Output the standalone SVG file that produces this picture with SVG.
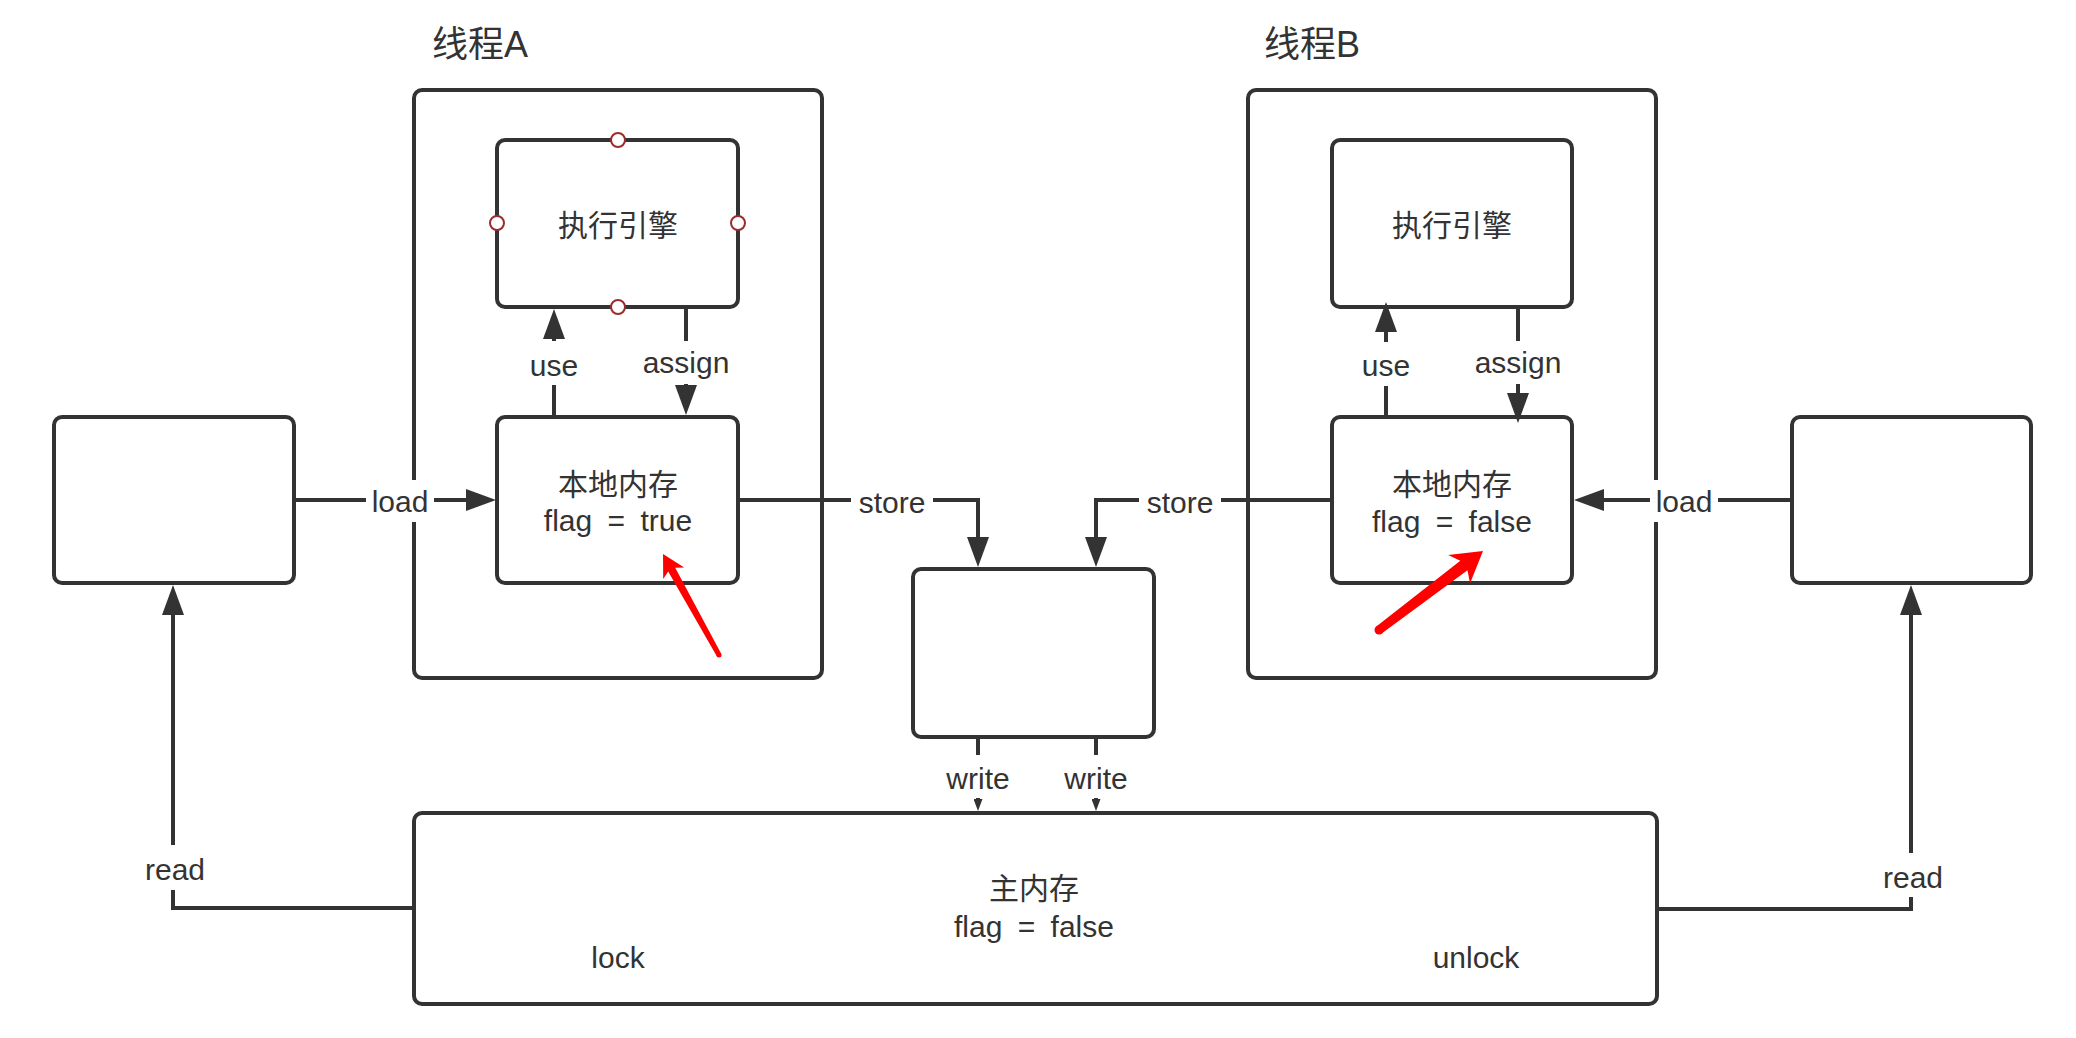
<svg xmlns="http://www.w3.org/2000/svg" width="2076" height="1038" viewBox="0 0 2076 1038">
<style>
.box{fill:#fff;stroke:#333;stroke-width:4}
.conn{fill:none;stroke:#333;stroke-width:4}
.t{font-family:"Liberation Sans","Noto Sans CJK SC",sans-serif;font-size:30px;fill:#333;text-anchor:middle}
.ws{word-spacing:7px}
.title{font-family:"Liberation Sans","Noto Sans CJK SC",sans-serif;font-size:36px;fill:#333}
.bg{fill:#fff}
.pt{fill:#fff;stroke:#9b2c2c;stroke-width:2}
.red{fill:#ff0000}
</style>
<defs>
<marker id="arr" viewBox="0 0 30 22" refX="10" refY="11" markerWidth="30" markerHeight="22" markerUnits="userSpaceOnUse" orient="auto"><path d="M0,0 L30,11 L0,22 z" fill="#333"/></marker>
<marker id="sarr" viewBox="0 0 12 9" refX="4" refY="4.5" markerWidth="12" markerHeight="9" markerUnits="userSpaceOnUse" orient="auto"><path d="M0,0 L12,4.5 L0,9 z" fill="#333"/></marker>
</defs>
<rect width="2076" height="1038" fill="#fff"/>

<g id="thread-a">
<rect class="box" x="414" y="90" width="408" height="588" rx="8"/>
<text class="title" x="432" y="57">线程A</text>
</g>
<g id="thread-b">
<rect class="box" x="1248" y="90" width="408" height="588" rx="8"/>
<text class="title" x="1264" y="57">线程B</text>
</g>

<g id="exec-a">
<rect class="box" x="497" y="140" width="241" height="167" rx="8"/>
<text class="t" x="618" y="236">执行引擎</text>
<circle class="pt" cx="618" cy="140" r="7"/>
<circle class="pt" cx="497" cy="223" r="7"/>
<circle class="pt" cx="738" cy="223" r="7"/>
<circle class="pt" cx="618" cy="307" r="7"/>
</g>
<g id="local-a">
<rect class="box" x="497" y="417" width="241" height="166" rx="8"/>
<text class="t" x="618" y="495">本地内存</text>
<text class="t ws" x="618" y="531">flag = true</text>
</g>
<g id="exec-b">
<rect class="box" x="1332" y="140" width="240" height="167" rx="8"/>
<text class="t" x="1452" y="236">执行引擎</text>
</g>
<g id="local-b">
<rect class="box" x="1332" y="417" width="240" height="166" rx="8"/>
<text class="t" x="1452" y="495">本地内存</text>
<text class="t ws" x="1452" y="532">flag = false</text>
</g>
<g id="left-box">
<rect class="box" x="54" y="417" width="240" height="166" rx="8"/>
</g>
<g id="right-box">
<rect class="box" x="1792" y="417" width="239" height="166" rx="8"/>
</g>
<g id="middle-box">
<rect class="box" x="913" y="569" width="241" height="168" rx="8"/>
</g>
<g id="main-memory">
<rect class="box" x="414" y="813" width="1243" height="191" rx="8"/>
<text class="t" x="1034" y="899">主内存</text>
<text class="t ws" x="1034" y="937">flag = false</text>
<text class="t" x="618" y="968">lock</text>
<text class="t" x="1476" y="968">unlock</text>
</g>

<g id="connectors">
<g id="load-a">
<path class="conn" d="M294,500 H476" marker-end="url(#arr)"/>
<rect class="bg" x="366" y="480" width="68" height="42"/>
<text class="t" x="400" y="512">load</text>
</g>
<g id="use-a">
<path class="conn" d="M554,417 V329" marker-end="url(#arr)"/>
<rect class="bg" x="528" y="341" width="52" height="44"/>
<text class="t" x="554" y="376">use</text>
</g>
<g id="assign-a">
<path class="conn" d="M686,307 V395" marker-end="url(#arr)"/>
<rect class="bg" x="640" y="341" width="92" height="43"/>
<text class="t" x="686" y="373">assign</text>
</g>
<g id="store-a">
<path class="conn" d="M738,500 H978 V547" marker-end="url(#arr)"/>
<rect class="bg" x="851" y="480" width="82" height="40"/>
<text class="t" x="892" y="513">store</text>
</g>
<g id="store-b">
<path class="conn" d="M1332,500 H1096 V547" marker-end="url(#arr)"/>
<rect class="bg" x="1139" y="480" width="82" height="40"/>
<text class="t" x="1180" y="513">store</text>
</g>
<g id="use-b">
<path class="conn" d="M1386,417 V322" marker-end="url(#arr)"/>
<rect class="bg" x="1360" y="342" width="52" height="44"/>
<text class="t" x="1386" y="376">use</text>
</g>
<g id="assign-b">
<path class="conn" d="M1518,307 V403" marker-end="url(#arr)"/>
<rect class="bg" x="1472" y="341" width="92" height="43"/>
<text class="t" x="1518" y="373">assign</text>
</g>
<g id="load-b">
<path class="conn" d="M1792,500 H1594" marker-end="url(#arr)"/>
<rect class="bg" x="1650" y="480" width="68" height="42"/>
<text class="t" x="1684" y="512">load</text>
</g>
<g id="write-1">
<path class="conn" d="M978,737 V803" marker-end="url(#sarr)"/>
<rect class="bg" x="940" y="755" width="76" height="43"/>
<text class="t" x="978" y="789">write</text>
</g>
<g id="write-2">
<path class="conn" d="M1096,737 V803" marker-end="url(#sarr)"/>
<rect class="bg" x="1058" y="755" width="76" height="43"/>
<text class="t" x="1096" y="789">write</text>
</g>
<g id="read-a">
<path class="conn" d="M414,908 H173 V605" marker-end="url(#arr)"/>
<rect class="bg" x="143" y="845" width="64" height="45"/>
<text class="t" x="175" y="880">read</text>
</g>
<g id="read-b">
<path class="conn" d="M1657,909 H1911 V605" marker-end="url(#arr)"/>
<rect class="bg" x="1880" y="853" width="64" height="44"/>
<text class="t" x="1913" y="888">read</text>
</g>
</g>

<g id="annotations">
<polygon class="red" points="663,554 684.2,567.4 675.2,567.8 721.2,653.8 716.8,656.2 668.2,571.6 663.2,579"/>
<circle class="red" cx="719" cy="655" r="2.5"/>
<polygon class="red" points="1483,551 1470,583.5 1467.5,570.3 1381.7,633.6 1376.3,626.4 1460.3,560.7 1448.2,554.9"/>
<circle class="red" cx="1379" cy="630" r="4.5"/>
</g>
</svg>
